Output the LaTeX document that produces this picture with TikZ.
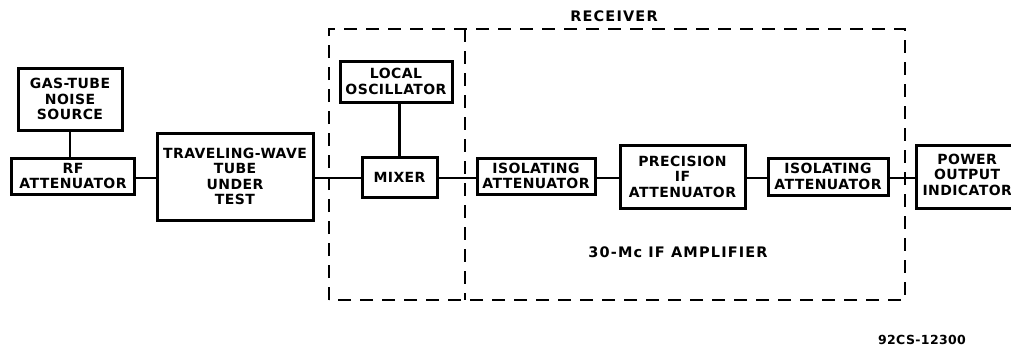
\documentclass[tikz,border=0pt]{standalone}
\usepackage{fontspec}
\setmainfont{DejaVu Sans}[BoldFont={DejaVu Sans Bold}]
\newfontfamily\lbl{DejaVu Sans Bold}[LetterSpace=3]
\newfontfamily\lblw{DejaVu Sans Bold}[LetterSpace=8]
\begin{document}
\begin{tikzpicture}[x=1pt,y=-1pt,
  blk/.style={draw,line width=3pt,rectangle,inner sep=0pt,align=center,
    font=\lbl\fontsize{14}{15.5}\selectfont},
  wire/.style={line width=2.5pt},
  grp/.style={line width=2.8pt,dash pattern=on 13pt off 9pt},
  txt/.style={font=\lblw\fontsize{14.5}{15}\selectfont,inner sep=0pt}]
\useasboundingbox (0,0) rectangle (1011,349);
\coordinate (sig) at (0,178);
% blocks
\node[blk,minimum width=104pt,minimum height=62pt] (gas) at (70,99) {GAS-TUBE\\NOISE\\SOURCE};
\node[blk,minimum width=123pt,minimum height=36pt] (rf) at (73,176) {RF\\ATTENUATOR};
\node[blk,minimum width=156pt,minimum height=87pt] (twt) at (235,176.5) {TRAVELING-WAVE\\TUBE\\UNDER\\TEST};
\node[blk,minimum width=112pt,minimum height=41pt] (lo) at (396,81.5) {LOCAL\\OSCILLATOR};
\node[blk,minimum width=75pt,minimum height=40pt] (mix) at (399.5,177) {MIXER};
\node[blk,minimum width=118pt,minimum height=36pt] (iso1) at (536,176) {ISOLATING\\ATTENUATOR};
\node[blk,minimum width=125pt,minimum height=63pt] (prec) at (682.5,176.5) {PRECISION\\IF\\ATTENUATOR};
\node[blk,minimum width=120pt,minimum height=37pt] (iso2) at (828,176.5) {ISOLATING\\ATTENUATOR};
\node[blk,minimum height=63pt,inner xsep=2pt,anchor=west] (pwr) at (915,176.5)
  {\hspace*{4pt}\begin{tabular}{@{}c@{}}POWER\\OUTPUT\\INDICATOR\end{tabular}\hspace*{30pt}};
% connectors
\draw[wire] (gas.south) -- (gas.south |- rf.north);
\draw[wire] (lo.south -| mix) -- (mix);
\draw[wire] (rf.east |- sig) -- (twt.west |- sig);
\draw[wire] (twt.east |- sig) -- (mix.west |- sig);
\draw[wire] (mix.east |- sig) -- (iso1.west |- sig);
\draw[wire] (iso1.east |- sig) -- (prec.west |- sig);
\draw[wire] (prec.east |- sig) -- (iso2.west |- sig);
\draw[wire] (iso2.east |- sig) -- (pwr.west |- sig);
% receiver groups
\draw[grp] (329,300) -- (329,29) -- (905,29) -- (905,300) -- cycle;
\draw[grp] (465,29) -- (465,300);
% labels
\node[txt] (rcv) at (614,16) {RECEIVER};
\node[txt] (ifa) at (678,252) {30-Mc IF AMPLIFIER};
\node[txt,font=\lbl\fontsize{12.5}{14}\selectfont] (fig) at (922,340) {92CS-12300};
\end{tikzpicture}
\end{document}
